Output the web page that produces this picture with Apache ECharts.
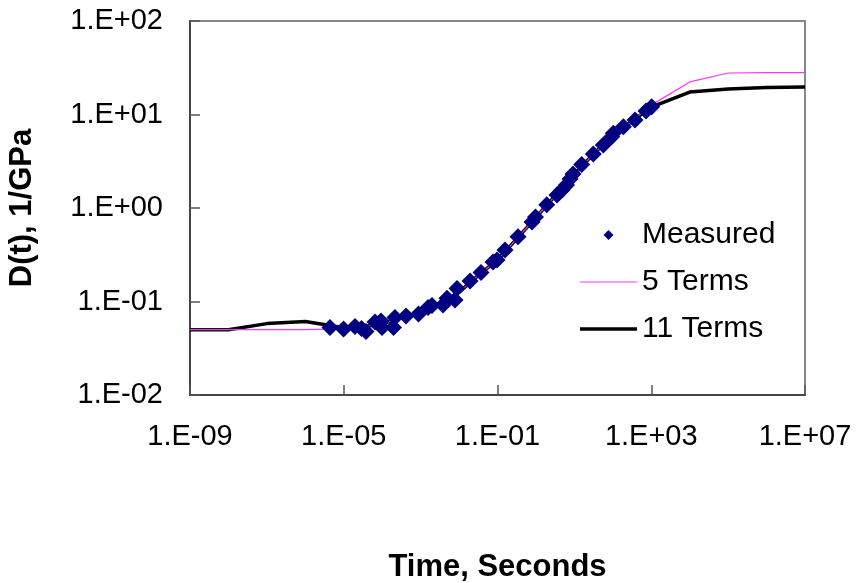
<!DOCTYPE html>
<html>
<head>
<meta charset="utf-8">
<title>Creep compliance D(t)</title>
<script src="https://cdn.jsdelivr.net/npm/echarts@6/dist/echarts.min.js"></script>
<style>
  html, body { margin: 0; padding: 0; background: #ffffff; }
  #chart { width: 859px; height: 583px; }
</style>
</head>
<body>
<div id="chart"></div>
<script>
// Measured creep compliance, time in seconds vs D(t) in 1/GPa
const measuredTime = [4.38e-6, 9.87e-6, 1.96e-5, 2.90e-5, 3.79e-5, 6.50e-5, 9.31e-5, 9.89e-5,
  1.97e-4, 2.15e-4, 4.17e-4, 8.81e-4, 1.56e-3, 1.98e-3, 3.82e-3, 4.85e-3, 7.83e-3, 8.83e-3,
  0.0193, 0.0372, 0.0764, 0.0970, 0.157, 0.341, 0.791, 0.975, 1.91, 3.53, 4.76, 6.24, 7.69,
  9.21, 15.5, 31.1, 56.6, 93.5, 103, 188, 378, 730, 1028];
const measuredD = [0.0527, 0.0508, 0.0541, 0.0514, 0.0478, 0.0604, 0.0618, 0.0527,
  0.0527, 0.0675, 0.0700, 0.0735, 0.0863, 0.0906, 0.0918, 0.108, 0.104, 0.138,
  0.166, 0.204, 0.264, 0.278, 0.356, 0.493, 0.708, 0.801, 1.08, 1.38, 1.56, 1.76, 2.04,
  2.31, 2.92, 3.78, 4.72, 5.79, 6.30, 7.40, 8.73, 10.9, 12.1];

// Prony-series fits evaluated at fixed times
const fitTime = [1e-9, 1e-8, 1e-7, 1e-6, 1e-5, 3.16e-5, 1e-4, 3.16e-4, 1e-3, 3.16e-3,
  1e-2, 3.16e-2, 1e-1, 0.316, 1, 3.16, 10, 31.6, 100, 316, 1e3, 1e4, 1e5, 1e6, 1e7];
const terms11 = [0.050, 0.050, 0.058, 0.061, 0.0525, 0.0537, 0.0575, 0.0676, 0.0759, 0.0933,
  0.126, 0.190, 0.279, 0.468, 0.794, 1.35, 2.29, 3.80, 5.89, 8.51, 12.0, 17.4, 18.7, 19.4, 19.7];
const terms5 = [0.050, 0.050, 0.050, 0.050, 0.051, 0.0537, 0.0575, 0.0676, 0.0759, 0.0933,
  0.126, 0.190, 0.279, 0.468, 0.794, 1.35, 2.29, 3.80, 5.89, 8.51, 12.6, 22.3, 27.8, 28.0, 28.0];

const xTickValues = [1e-9, 1e-5, 1e-1, 1e3, 1e7];
const seriesNames = ['Measured', '5 Terms', '11 Terms'];
const xTitle = 'Time, Seconds';
const yTitle = 'D(t), 1/GPa';

const pair = (xs, ys) => xs.map((x, i) => [x, ys[i]]);

// Format powers of ten as 1.E+02 / 1.E-05
function sciLabel(v) {
  const e = Math.round(Math.log10(v));
  const sign = e < 0 ? '-' : '+';
  const a = Math.abs(e);
  return '1.E' + sign + (a < 10 ? '0' + a : String(a));
}

const FONT = "'Liberation Sans', Arial, sans-serif";
const NAVY = '#000080';
const PINK = '#ff33ff';

const chart = echarts.init(document.getElementById('chart'), null, { renderer: 'canvas' });
chart.setOption({
  animation: false,
  backgroundColor: '#ffffff',
  textStyle: { fontFamily: FONT },
  grid: {
    left: 190, right: 54, top: 21, bottom: 188,
    outerBoundsMode: 'none', containLabel: false,
    show: true, borderColor: '#888888', borderWidth: 2, backgroundColor: 'transparent'
  },
  legend: {
    orient: 'vertical',
    left: 575, top: 214,
    itemWidth: 57, itemHeight: 10, itemGap: 15,
    symbolKeepAspect: true,
    textStyle: { fontFamily: FONT, fontSize: 30, color: '#000', lineHeight: 32 },
    data: [
      { name: seriesNames[0], icon: 'path://M5,0 L10,5 L5,10 L0,5 Z',
        itemStyle: { color: NAVY, opacity: 1 } },
      { name: seriesNames[1], icon: 'path://M0,0 H57 V1.2 H0 Z',
        itemStyle: { color: PINK, opacity: 1 } },
      { name: seriesNames[2], icon: 'path://M0,0 H57 V3.5 H0 Z',
        itemStyle: { color: '#000000', opacity: 1 } }
    ]
  },
  xAxis: {
    type: 'log', logBase: 10, min: 1e-9, max: 1e7,
    name: xTitle, nameLocation: 'middle', nameGap: 157,
    nameTextStyle: { fontFamily: FONT, fontSize: 31, fontWeight: 'bold', color: '#000' },
    axisLine: { show: true, lineStyle: { color: '#444', width: 2 } },
    axisTick: { show: true, inside: true, length: 10, customValues: xTickValues,
      lineStyle: { color: '#555', width: 1.5 } },
    axisLabel: { customValues: xTickValues, margin: 27, fontSize: 29, color: '#000',
      fontFamily: FONT, formatter: sciLabel },
    splitLine: { show: false },
    minorTick: { show: false }
  },
  yAxis: {
    type: 'log', logBase: 10, min: 0.01, max: 100, interval: 1,
    name: yTitle, nameLocation: 'middle', nameGap: 152, nameRotate: 90,
    nameTextStyle: { fontFamily: FONT, fontSize: 31, fontWeight: 'bold', color: '#000' },
    axisLine: { show: true, lineStyle: { color: '#444', width: 2 } },
    axisTick: { show: true, inside: true, length: 10, lineStyle: { color: '#555', width: 1.5 } },
    axisLabel: { margin: 27, fontSize: 29, color: '#000', fontFamily: FONT, formatter: sciLabel },
    splitLine: { show: false }
  },
  series: [
    {
      name: seriesNames[2], type: 'line', data: pair(fitTime, terms11),
      symbol: 'none', z: 2,
      lineStyle: { color: '#000000', width: 3.5 },
      itemStyle: { color: '#000000' }
    },
    {
      name: seriesNames[1], type: 'line', data: pair(fitTime, terms5),
      symbol: 'none', z: 3,
      lineStyle: { color: PINK, width: 1.2 },
      itemStyle: { color: PINK }
    },
    {
      name: seriesNames[0], type: 'scatter', data: pair(measuredTime, measuredD),
      symbol: 'diamond', symbolSize: 17, z: 4,
      itemStyle: { color: NAVY, opacity: 1 }
    }
  ]
});
</script>
</body>
</html>
